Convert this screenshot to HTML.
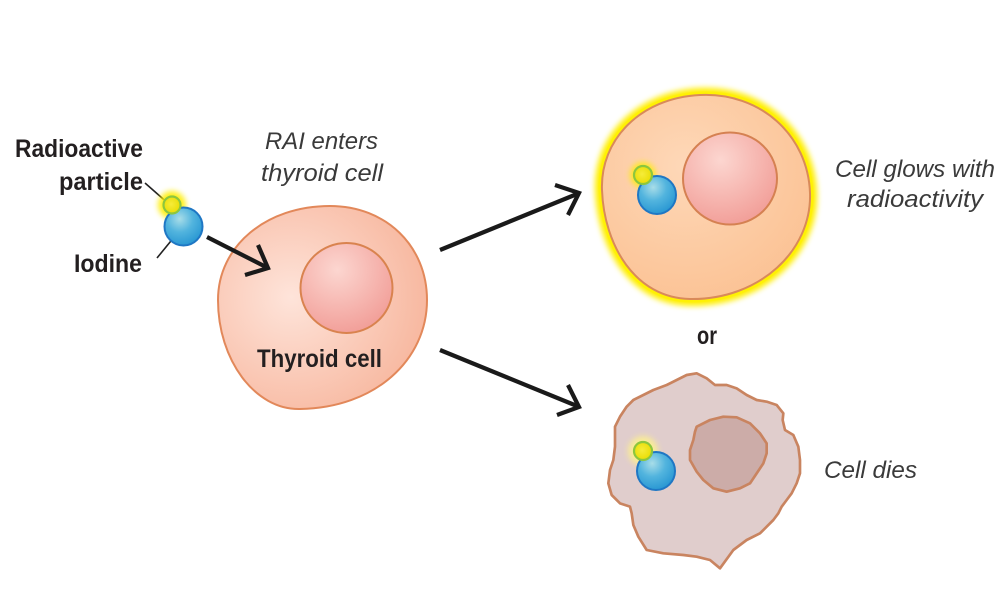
<!DOCTYPE html>
<html>
<head>
<meta charset="utf-8">
<style>
  html,body{margin:0;padding:0;background:#fff;}
  svg{display:block;}
  .b{font-family:"Liberation Sans",sans-serif;font-weight:bold;font-size:25px;fill:#231f20;}
  .i{font-family:"Liberation Sans",sans-serif;font-style:italic;font-size:24px;fill:#3a3a3a;}
</style>
</head>
<body>
<svg width="1000" height="604" viewBox="0 0 1000 604" xmlns="http://www.w3.org/2000/svg">
  <defs>
    <radialGradient id="thy" cx="0.35" cy="0.45" r="0.7">
      <stop offset="0" stop-color="#fee4da"/>
      <stop offset="1" stop-color="#f7b59c"/>
    </radialGradient>
    <radialGradient id="nuc" cx="0.4" cy="0.3" r="0.7">
      <stop offset="0" stop-color="#fcd6d0"/>
      <stop offset="1" stop-color="#f2a09a"/>
    </radialGradient>
    <radialGradient id="glowcell" cx="0.4" cy="0.35" r="0.7">
      <stop offset="0" stop-color="#fed8b8"/>
      <stop offset="1" stop-color="#fbc294"/>
    </radialGradient>
    <radialGradient id="blue" cx="0.4" cy="0.3" r="0.7">
      <stop offset="0" stop-color="#a8dde8"/>
      <stop offset="0.5" stop-color="#52b4de"/>
      <stop offset="1" stop-color="#2a98d3"/>
    </radialGradient>
    <radialGradient id="yel" cx="0.45" cy="0.45" r="0.6">
      <stop offset="0" stop-color="#f6ec3a"/>
      <stop offset="1" stop-color="#e8dc00"/>
    </radialGradient>
    <filter id="blur3" x="-30%" y="-30%" width="160%" height="160%">
      <feGaussianBlur stdDeviation="3"/>
    </filter>
    <filter id="blur2" x="-100%" y="-100%" width="300%" height="300%">
      <feGaussianBlur stdDeviation="3"/>
    </filter>
  </defs>

  <!-- Labels left -->
  <text class="b" x="15" y="157" textLength="128" lengthAdjust="spacingAndGlyphs">Radioactive</text>
  <text class="b" x="59" y="190" textLength="84" lengthAdjust="spacingAndGlyphs">particle</text>
  <text class="b" x="74" y="272" textLength="68" lengthAdjust="spacingAndGlyphs">Iodine</text>
  <line x1="145" y1="183" x2="170" y2="205" stroke="#222" stroke-width="1.6"/>
  <line x1="157" y1="258" x2="175" y2="236" stroke="#222" stroke-width="1.6"/>

  <!-- left particle -->
  <circle cx="172" cy="205" r="14" fill="#ffee00" filter="url(#blur2)" opacity="0.9"/>
  <circle cx="183.5" cy="226.5" r="19" fill="url(#blue)" stroke="#1f77c4" stroke-width="2"/>
  <circle cx="172" cy="205" r="8.5" fill="url(#yel)" stroke="#8cc63f" stroke-width="2.2"/>

  <!-- RAI enters -->
  <text class="i" x="265" y="149" textLength="113" lengthAdjust="spacingAndGlyphs">RAI enters</text>
  <text class="i" x="261" y="181" textLength="122" lengthAdjust="spacingAndGlyphs">thyroid cell</text>

  <!-- Thyroid cell -->
  <path d="M 218,300 C 218,246 266,206 330,206 C 386,206 427,246 427,300 C 427,360 375,408 300,409 C 255,410 218,360 218,300 Z"
        fill="url(#thy)" stroke="#e2885a" stroke-width="2"/>
  <ellipse cx="346.5" cy="288" rx="46" ry="45" fill="url(#nuc)" stroke="#d9834f" stroke-width="2"/>
  <text class="b" x="257" y="367" textLength="125" lengthAdjust="spacingAndGlyphs">Thyroid cell</text>

  <!-- arrows -->
  <g stroke="#1a1a1a" stroke-width="4.2" fill="none">
    <line x1="207" y1="237" x2="266" y2="267"/>
    <polyline points="258,245 268,268 245,275"/>
    <line x1="440" y1="250" x2="577" y2="194"/>
    <polyline points="555,185 579,193 568,215"/>
    <line x1="440" y1="350" x2="577" y2="406"/>
    <polyline points="568,385 579,407 557,415"/>
  </g>

  <!-- Glowing cell -->
  <path d="M 602,190 C 600,140 640,98 700,95 C 760,92 808,135 810,193 C 812,250 760,300 690,299 C 635,298 604,245 602,190 Z"
        fill="none" stroke="#ffee00" stroke-width="14" filter="url(#blur3)"/>
  <path d="M 602,190 C 600,140 640,98 700,95 C 760,92 808,135 810,193 C 812,250 760,300 690,299 C 635,298 604,245 602,190 Z"
        fill="none" stroke="#fff200" stroke-width="7" opacity="0.7"/>
  <path d="M 602,190 C 600,140 640,98 700,95 C 760,92 808,135 810,193 C 812,250 760,300 690,299 C 635,298 604,245 602,190 Z"
        fill="url(#glowcell)" stroke="#d98a5a" stroke-width="2"/>
  <ellipse cx="730" cy="178.5" rx="47" ry="46" fill="url(#nuc)" stroke="#d58152" stroke-width="2"/>
  <circle cx="643" cy="175" r="13" fill="#ffee00" filter="url(#blur2)" opacity="0.8"/>
  <circle cx="657" cy="195" r="19" fill="url(#blue)" stroke="#1f77c4" stroke-width="2"/>
  <circle cx="643" cy="175" r="9" fill="url(#yel)" stroke="#8cc63f" stroke-width="2.2"/>

  <text class="i" x="835" y="177" textLength="160" lengthAdjust="spacingAndGlyphs">Cell glows with</text>
  <text class="i" x="847" y="207" textLength="136" lengthAdjust="spacingAndGlyphs">radioactivity</text>

  <text class="b" x="697" y="344" textLength="20" lengthAdjust="spacingAndGlyphs">or</text>

  <!-- Dying cell -->
  <g transform="translate(600,320) scale(0.33333)">
    <polygon points="290,160 320,175 345,195 380,195 410,205 440,225 470,240 500,245 530,255 550,280 548,300 555,330 580,345 595,380 600,420 600,460 590,490 575,520 560,540 545,560 535,580 520,600 500,620 480,640 440,660 400,690 360,745 330,720 290,710 250,705 190,700 140,690 115,650 100,615 95,580 90,560 60,550 35,525 25,490 30,450 40,420 45,380 45,320 60,290 80,260 100,240 130,225 160,210 200,195 230,180 260,165"
             fill="#e0cdcc" stroke="#c98460" stroke-width="8" stroke-linejoin="round"/>
    <polygon points="290,320 330,300 370,290 410,292 450,310 480,340 500,370 500,400 490,430 470,460 450,490 420,505 380,515 340,505 310,480 290,455 270,420 270,390 280,360 285,335"
             fill="#ccaca8" stroke="#c98460" stroke-width="8" stroke-linejoin="round"/>
  </g>
  <circle cx="643" cy="451" r="15" fill="#fff38a" filter="url(#blur2)" opacity="0.8"/>
  <circle cx="656" cy="471" r="19" fill="url(#blue)" stroke="#1f77c4" stroke-width="2"/>
  <circle cx="643" cy="451" r="9" fill="url(#yel)" stroke="#8cc63f" stroke-width="2.2"/>

  <text class="i" x="824" y="478" textLength="93" lengthAdjust="spacingAndGlyphs">Cell dies</text>
</svg>
</body>
</html>
